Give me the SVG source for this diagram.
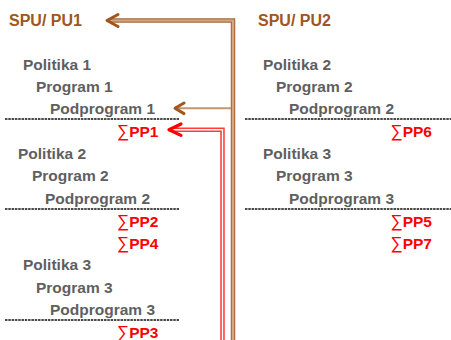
<svg xmlns="http://www.w3.org/2000/svg" width="451" height="340" viewBox="0 0 451 340">
<style>
text{font-family:"Liberation Sans",Arial,sans-serif;font-weight:bold;font-size:15.5px}
.t{fill:#5f5f5f}
.h{fill:#a0561e;font-size:16px}
.r{fill:#ff0000}
.sig{font-weight:normal;font-size:17px}
.dash{stroke:#111;stroke-width:1.6;stroke-dasharray:2.5 0.8;fill:none}
.bo{stroke:#a8693a;stroke-width:4.5;fill:none}
.bi{stroke:#d2a982;stroke-width:2.2;fill:none}
.ro{stroke:#ff3b3b;stroke-width:4.5;fill:none}
.ri{stroke:#fff;stroke-width:1.4;fill:none}
.ab{stroke:#a0561e;stroke-width:3;fill:none;stroke-linecap:round;stroke-linejoin:round}
.ar{stroke:#ff0000;stroke-width:3.2;fill:none;stroke-linecap:round;stroke-linejoin:round}
</style>
<g id="col1">
<text class="h" x="9" y="25.5">SPU/ PU1</text>
<text class="t" x="23" y="69.5">Politika 1</text>
<text class="t" x="36" y="91.5">Program 1</text>
<text class="t" x="50" y="114">Podprogram 1</text>
<line class="dash" x1="5" y1="119" x2="179" y2="119"/>
<text class="r" x="117" y="136.5"><tspan class="sig">∑</tspan>PP1</text>
<text class="t" x="18" y="159">Politika 2</text>
<text class="t" x="32" y="181">Program 2</text>
<text class="t" x="45" y="203.5">Podprogram 2</text>
<line class="dash" x1="5" y1="209" x2="179" y2="209"/>
<text class="r" x="117" y="226.5"><tspan class="sig">∑</tspan>PP2</text>
<text class="r" x="117" y="249"><tspan class="sig">∑</tspan>PP4</text>
<text class="t" x="23" y="270">Politika 3</text>
<text class="t" x="36" y="292.5">Program 3</text>
<text class="t" x="50" y="315">Podprogram 3</text>
<line class="dash" x1="5" y1="320" x2="179" y2="320"/>
<text class="r" x="117" y="337.5"><tspan class="sig">∑</tspan>PP3</text>
</g>
<g id="col2">
<text class="h" x="258" y="25.5">SPU/ PU2</text>
<text class="t" x="263" y="69.5">Politika 2</text>
<text class="t" x="276" y="91.5">Program 2</text>
<text class="t" x="289" y="114">Podprogram 2</text>
<line class="dash" x1="245" y1="119" x2="451" y2="119"/>
<text class="r" x="390.5" y="136.5"><tspan class="sig">∑</tspan>PP6</text>
<text class="t" x="263" y="159">Politika 3</text>
<text class="t" x="276" y="181">Program 3</text>
<text class="t" x="289" y="203.5">Podprogram 3</text>
<line class="dash" x1="245" y1="209" x2="451" y2="209"/>
<text class="r" x="390.5" y="226.5"><tspan class="sig">∑</tspan>PP5</text>
<text class="r" x="390.5" y="249"><tspan class="sig">∑</tspan>PP7</text>
</g>
<g id="connectors">
<path class="bo" d="M233 340 V20.5 H110"/>
<path class="bi" d="M233 340 V20.5 H110"/>
<polyline class="ab" points="118,14.5 107,20.5 118,26.5"/>
<line x1="176" y1="108.3" x2="231" y2="108.3" stroke="#c4946c" stroke-width="2"/>
<polyline class="ab" points="184,103 175,108.3 184,113.6"/>
<path class="ro" d="M222.5 340 V129.7 H171"/>
<path class="ri" d="M222.5 340 V129.7 H171"/>
<polyline class="ar" points="181,124 169,129.7 181,135.4"/>
</g>
</svg>
